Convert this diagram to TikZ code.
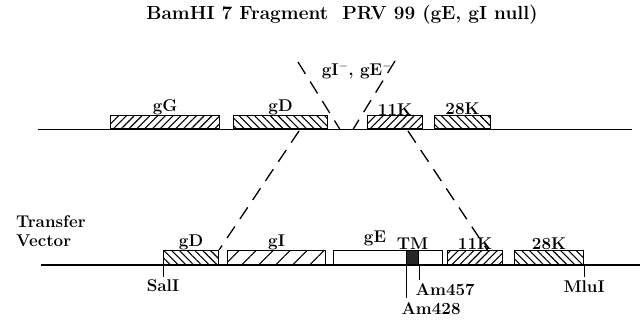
\documentclass[tikz,border=0pt]{standalone}
\usetikzlibrary{patterns.meta,positioning}

\begin{document}
\begin{tikzpicture}[x=1pt, y=-1pt,
  gene/.style={draw, line width=1.1pt, anchor=south west, inner sep=0pt},
  fwd/.style={pattern={Lines[angle=45, distance=5.5pt, line width=1.1pt]}},
  bwd/.style={pattern={Lines[angle=-45, distance=5.5pt, line width=1.1pt]}},
  sparse/.style={pattern={Lines[angle=45, distance=12pt, line width=1.1pt]}},
  lbl/.style={font=\fontsize{17}{19}\selectfont\bfseries, inner sep=1pt},
  dna/.style={line width=1.7pt},
  cut/.style={line width=1.3pt, dash pattern=on 14pt off 9pt},
  tick/.style={line width=1pt},
]
\useasboundingbox (0,0) rectangle (640,320);

% === TITLE ===
\node[lbl, font=\fontsize{19}{22}\selectfont\bfseries] (title) at (342,15) {BamHI 7 Fragment\ \ PRV 99 (gE, gI null)};

% === BAMHI 7 FRAGMENT ===
\coordinate (topL) at (38,129.5);
\coordinate (topR) at (632,129.5);
\draw[dna] (topL) -- (topR);

\node[gene, fwd, minimum width=109pt, minimum height=13pt] (tgG) at (110,129.5) {};
\node[gene, bwd, minimum width=94pt, minimum height=13pt] (tgD) at (233,129.5) {};
\node[gene, fwd, minimum width=55pt, minimum height=13pt] (tK11) at (367,129.5) {};
\node[gene, bwd, minimum width=56pt, minimum height=13pt] (tK28) at (434,129.5) {};

\node[lbl, above=-1pt of tgG] {gG};
\node[lbl, above=-1pt of tgD] {gD};
\node[lbl, above=-1pt of tK11] {11K};
\node[lbl, above=-1pt of tK28] {28K};

% deletion
\coordinate (delA) at (298,62);
\coordinate (delB) at (340,129.5);
\coordinate (delC) at (395,61);
\coordinate (delD) at (353,129.5);
\draw[cut] (delA) -- (delB);
\draw[cut] (delC) -- (delD);
\node[lbl] (del) at (357,71) {gI$^{-}$, gE$^{-}$};

% === TRANSFER VECTOR ===
\node[lbl, align=left, anchor=west] (tv) at (15,231) {Transfer\\Vector};

\coordinate (botL) at (41,265);
\coordinate (botR) at (640,265);
\draw[dna] (botL) -- (botR);

\node[gene, bwd, minimum width=55pt, minimum height=14pt] (bgD) at (163,265) {};
\node[gene, sparse, minimum width=98pt, minimum height=14pt] (bgI) at (227,265) {};
\node[gene, fill=white, minimum width=109pt, minimum height=14pt] (bgE) at (333,265) {};
\node[gene, fill=black!85, minimum width=12pt, minimum height=14pt] (bTM) at (406,265) {};
\node[gene, fwd, minimum width=55pt, minimum height=14pt] (bK11) at (447,265) {};
\node[gene, bwd, minimum width=69pt, minimum height=14pt] (bK28) at (514,265) {};

\node[lbl, above=-1pt of bgD] {gD};
\node[lbl, above=-1pt of bgI] {gI};
\node[lbl] at (375,238) {gE};
\node[lbl, above=-1pt of bTM] {TM};
\node[lbl, above=-1pt of bK11] {11K};
\node[lbl, above=-1pt of bK28] {28K};

% flanks
\coordinate (flA) at (299,131);
\coordinate (flB) at (408,131);
\draw[cut] (flA) -- (bgD.north east);
\draw[cut] (flB) -- (488,251);

% === SITES ===
\draw[tick] (bgD.south west) -- ++(0,12) node[lbl, below=1pt] (sal) {SalI};
\draw[tick] (bTM.south west) -- ++(0,33) node[lbl, below right=3pt and -6pt] (am428) {Am428};
\draw[tick] (bTM.south east) -- ++(0,15) node[lbl, below right=2pt and -5pt] (am457) {Am457};
\draw[tick] (bK28.south east) -- ++(0,12) node[lbl, below=2pt] (mlu) {MluI};

\end{tikzpicture}
\end{document}
